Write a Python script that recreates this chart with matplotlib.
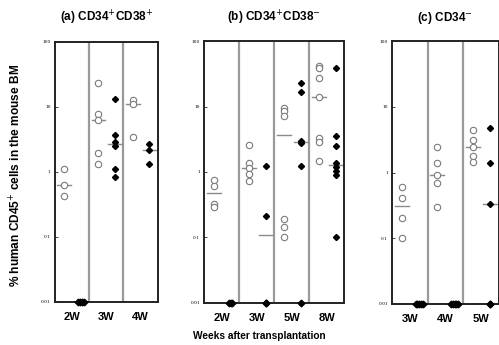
import numpy as np
import matplotlib
matplotlib.use("Agg")
import matplotlib.pyplot as plt

plt.rcParams['font.family'] = ['Liberation Sans', 'DejaVu Sans']

# detection floor for filled symbols
FLOOR = 0.01

# (a) CD34+CD38+
a_weeks = ["2W", "3W", "4W"]
a_open = [[1.1, 0.62, 0.42],
          [23.4, 7.7, 6.2, 1.94, 1.33],
          [12.8, 11.2, 3.45]]
a_filled = [[0.01, 0.01, 0.01, 0.01],
            [13.3, 3.7, 2.9, 2.46, 1.11, 0.82],
            [2.67, 2.18, 1.33]]

# (b) CD34+CD38-
b_weeks = ["2W", "3W", "5W", "8W"]
b_open = [[0.755, 0.62, 0.32, 0.29],
          [2.55, 1.39, 1.14, 0.94, 0.73],
          [9.6, 8.5, 7.2, 0.19, 0.146, 0.102],
          [42, 39, 27, 14.1, 3.3, 2.9, 1.46]]
b_filled = [[0.01, 0.01, 0.01],
            [1.22, 0.21, 0.01, 0.01],
            [23, 16.5, 3.0, 2.8, 1.22, 0.01],
            [38.7, 3.6, 2.5, 1.37, 1.2, 1.05, 0.91, 0.1]]

# (c) CD34-
c_weeks = ["3W", "4W", "5W"]
c_open = [[0.61, 0.41, 0.2, 0.1],
          [2.47, 1.41, 0.93, 0.7, 0.3],
          [4.38, 3.12, 2.47, 1.78, 1.43]]
c_filled = [[0.01, 0.01, 0.01, 0.01, 0.01],
            [0.01, 0.01, 0.01, 0.01, 0.01],
            [4.75, 1.38, 0.33, 0.01, 0.01]]

titles = ["(a) CD34$^{+}$CD38$^{+}$", "(b) CD34$^{+}$CD38$^{-}$", "(c) CD34$^{-}$"]
panels = [(a_weeks, a_open, a_filled),
          (b_weeks, b_open, b_filled),
          (c_weeks, c_open, c_filled)]

# axes rectangles (figure fractions)
rects = [[0.110, 0.125, 0.206, 0.754],
         [0.409, 0.122, 0.281, 0.759],
         [0.786, 0.119, 0.213, 0.762]]

fig = plt.figure(figsize=(4.99, 3.45), dpi=100)

for (weeks, opens, filled), rect, title in zip(panels, rects, titles):
    ax = fig.add_axes(rect)
    ax.set_yscale("log")
    ax.set_ylim(0.01, 100)
    ax.set_xlim(0, len(weeks))

    for i in range(1, len(weeks)):
        ax.axvline(i, color="#9a9a9a", lw=1.6, zorder=1)

    for i, (ov, fv) in enumerate(zip(opens, filled)):
        xo = i + 0.27
        xf = i + 0.76
        ax.plot([xo] * len(ov), ov, "o", ms=4.6, mfc="white", mec="#7a7a7a",
                mew=0.8, zorder=3)
        med = np.median(ov)
        ax.plot([xo - 0.2, xo + 0.2], [med, med], color="#8a8a8a", lw=1.0, zorder=2)

        fv = np.array(fv)
        top = fv[fv > FLOOR]
        n0 = int(np.sum(fv <= FLOOR))
        ax.plot([xf] * len(top), top, "D", ms=3.1, color="black", zorder=4)
        if n0 > 0:
            if n0 > 2:
                offs = (np.arange(n0) - (n0 - 1) / 2) * 0.05
            else:
                offs = np.zeros(n0)
            ax.plot(xf + offs, [FLOOR] * n0, "D", ms=3.4, color="black",
                    zorder=4, clip_on=False)
        if len(top) > 0:
            medf = np.median(fv)
            ax.plot([xf - 0.2, xf + 0.2], [medf, medf], color="#8a8a8a",
                    lw=1.0, zorder=2)

    for s in ax.spines.values():
        s.set_linewidth(1.4)
        s.set_color("#222222")

    ax.set_yticks([0.01, 0.1, 1, 10, 100])
    ax.set_yticklabels(["0.01", "0.1", "1", "10", "100"],
                       fontsize=3.2, family="DejaVu Serif")
    ax.yaxis.set_minor_locator(matplotlib.ticker.NullLocator())
    ax.tick_params(axis="y", direction="in", length=2, width=0.5, pad=3)

    ax.set_xticks(np.arange(len(weeks)) + 0.5)
    ax.set_xticklabels(weeks, fontsize=8, fontweight="bold")
    ax.tick_params(axis="x", length=0, pad=7)

    x0, y0, w, h = rect
    fig.text(x0 + w / 2, 0.948, title, ha="center", va="center",
             fontsize=8.5, fontweight="bold")

fig.text(0.032, 0.49, "% human CD45$^{+}$ cells in the mouse BM", rotation=90,
         ha="center", va="center", fontsize=8.6, fontweight="bold")
fig.text(0.52, 0.025, "Weeks after transplantation", ha="center", va="center",
         fontsize=7.3, fontweight="bold")

fig.savefig("out.png", dpi=100)
